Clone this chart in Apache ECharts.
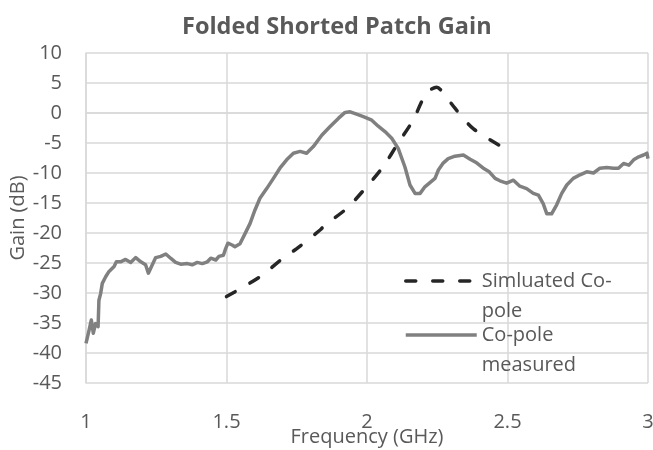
<!DOCTYPE html>
<html>
<head>
<meta charset="utf-8">
<script src="https://cdn.jsdelivr.net/npm/echarts@6/dist/echarts.min.js"></script>
<style>html,body{margin:0;padding:0;background:#fff;}#c{width:653px;height:450px;}</style>
</head>
<body>
<div id="c"></div>
<script>
const chartTitle = 'Folded Shorted Patch Gain';
const xName = 'Frequency (GHz)';
const yName = 'Gain (dB)';
const simName = 'Simluated Co-pole';
const measName = 'Co-pole measured';

// Simulated co-pole: [frequency GHz, gain dB]
const simFreq = [1.5, 1.619, 1.696, 1.75, 1.833, 1.85, 1.928, 1.993, 2.058, 2.111, 2.164, 2.2, 2.224, 2.248, 2.272, 2.313, 2.378, 2.479];
const simGain = [-30.6, -27.3, -24.4, -22.6, -19.5, -18.7, -15.9, -12.6, -8.9, -5.0, -1.2, 2.4, 3.8, 4.3, 3.3, 0.8, -2.6, -5.6];

// Measured co-pole
const measFreq = [1.0, 1.011, 1.019, 1.026, 1.034, 1.043, 1.046, 1.052, 1.058, 1.07, 1.082, 1.1, 1.108, 1.123, 1.141, 1.159, 1.177, 1.195, 1.212, 1.222, 1.236, 1.248, 1.266, 1.284, 1.301, 1.319, 1.337, 1.361, 1.378, 1.396, 1.414, 1.432, 1.444, 1.462, 1.473, 1.489, 1.497, 1.505, 1.52, 1.53, 1.548, 1.566, 1.584, 1.601, 1.619, 1.643, 1.667, 1.69, 1.714, 1.738, 1.762, 1.785, 1.809, 1.839, 1.868, 1.898, 1.922, 1.94, 1.963, 1.987, 2.017, 2.04, 2.064, 2.088, 2.111, 2.135, 2.153, 2.171, 2.189, 2.206, 2.224, 2.242, 2.254, 2.27, 2.289, 2.313, 2.343, 2.367, 2.39, 2.414, 2.435, 2.456, 2.473, 2.497, 2.521, 2.544, 2.568, 2.592, 2.61, 2.627, 2.64, 2.657, 2.675, 2.693, 2.711, 2.734, 2.758, 2.782, 2.806, 2.829, 2.853, 2.877, 2.895, 2.913, 2.932, 2.949, 2.967, 2.984, 2.996, 3.0];
const measGain = [-38.4, -36.2, -34.5, -36.7, -35.1, -35.6, -31.2, -30.1, -28.4, -27.3, -26.4, -25.6, -24.8, -24.8, -24.4, -24.9, -24.1, -24.8, -25.3, -26.7, -25.3, -24.1, -23.9, -23.5, -24.2, -24.9, -25.2, -25.1, -25.3, -24.9, -25.1, -24.8, -24.2, -24.5, -23.9, -23.7, -22.6, -21.7, -22.0, -22.3, -21.8, -20.1, -18.4, -16.2, -14.2, -12.6, -10.9, -9.2, -7.8, -6.7, -6.4, -6.7, -5.6, -3.7, -2.3, -0.9, 0.1, 0.2, -0.2, -0.6, -1.2, -2.2, -3.1, -4.2, -5.9, -9.0, -12.0, -13.4, -13.4, -12.3, -11.6, -10.9, -9.5, -8.4, -7.6, -7.2, -7.0, -7.7, -8.3, -9.2, -9.8, -10.9, -11.3, -11.7, -11.2, -12.2, -12.6, -13.4, -13.7, -15.1, -16.8, -16.8, -15.3, -13.4, -12.0, -10.9, -10.3, -9.8, -10.0, -9.2, -9.1, -9.2, -9.2, -8.4, -8.7, -7.8, -7.3, -7.0, -6.7, -7.6];

const xTicks = {min: 1, max: 3, interval: 0.5};
const yTicks = {min: -45, max: 10, interval: 5};

const textColor = '#595959';
const gridColor = '#d9d9d9';
const simColor = '#262626';
const measColor = '#808080';
const font = 'Open Sans';
const simDash = [10, 17];

const zip = (a, b) => a.map((v, i) => [v, b[i]]);

const chart = echarts.init(document.getElementById('c'), null, {renderer: 'canvas'});
const legendText = {color: textColor, fontSize: 20, fontFamily: font, lineHeight: 30};
chart.setOption({
  animation: false,
  backgroundColor: '#ffffff',
  title: {
    text: chartTitle, left: 177, top: 10,
    textStyle: {color: textColor, fontSize: 23.5, fontWeight: 'bold', fontFamily: font}
  },
  grid: {left: 86, right: 5, top: 53, bottom: 67, containLabel: false, outerBoundsMode: 'none'},
  legend: [
    {data: [simName], left: 404, top: 236, padding: 0, itemWidth: 71, itemHeight: 14, itemGap: 0,
     formatter: () => '\nSimluated Co-\npole', textStyle: legendText,
     itemStyle: {opacity: 0}, lineStyle: {width: 3.5, color: simColor, type: simDash, cap: 'round'}},
    {data: [measName], left: 404, top: 290, padding: 0, itemWidth: 71, itemHeight: 14, itemGap: 0,
     formatter: () => '\nCo-pole\nmeasured', textStyle: legendText,
     itemStyle: {opacity: 0}, lineStyle: {width: 3.5, color: measColor}}
  ],
  xAxis: {
    type: 'value', min: xTicks.min, max: xTicks.max, interval: xTicks.interval,
    name: xName, nameLocation: 'middle', nameGap: 44, nameMoveOverlap: false,
    nameTextStyle: {color: textColor, fontSize: 20, fontFamily: font},
    axisLine: {show: true, lineStyle: {color: gridColor, width: 1.5}},
    axisTick: {show: false},
    axisLabel: {color: textColor, fontSize: 20, fontFamily: font, margin: 29},
    splitLine: {show: true, lineStyle: {color: gridColor, width: 1.5}}
  },
  yAxis: {
    type: 'value', min: yTicks.min, max: yTicks.max, interval: yTicks.interval,
    name: yName, nameLocation: 'middle', nameGap: 58, nameRotate: 90, nameMoveOverlap: false,
    nameTextStyle: {color: textColor, fontSize: 20, fontFamily: font},
    axisLine: {show: true, lineStyle: {color: gridColor, width: 1.5}},
    axisTick: {show: false},
    axisLabel: {color: textColor, fontSize: 20, fontFamily: font, margin: 24},
    splitLine: {show: true, lineStyle: {color: gridColor, width: 1.5}}
  },
  series: [
    {name: simName, type: 'line', data: zip(simFreq, simGain), symbol: 'none', smooth: 0.3,
     lineStyle: {color: simColor, width: 3.5, type: simDash, cap: 'round'}, itemStyle: {color: simColor}},
    {name: measName, type: 'line', data: zip(measFreq, measGain), symbol: 'none',
     lineStyle: {color: measColor, width: 3.5, join: 'round'}, itemStyle: {color: measColor}}
  ]
});
</script>
</body>
</html>
